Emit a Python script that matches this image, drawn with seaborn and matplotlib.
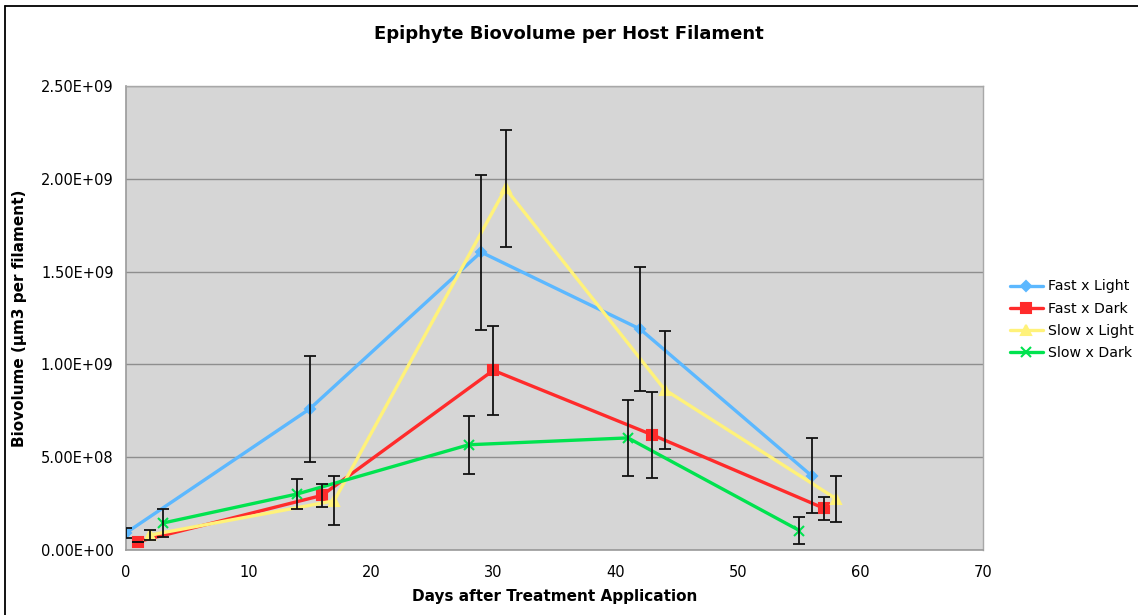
import matplotlib
matplotlib.use("Agg")
import matplotlib.pyplot as plt
from matplotlib.lines import Line2D
import seaborn as sns
import pandas as pd
from matplotlib.ticker import FuncFormatter

# Series: sampling day, mean biovolume, error-bar half width
series_names = ["Fast x Light", "Fast x Dark", "Slow x Light", "Slow x Dark"]

fast_light_days = [0, 15, 29, 42, 56]
fast_light_vals = [0.092e9, 0.76e9, 1.605e9, 1.19e9, 0.40e9]
fast_light_err = [0.027e9, 0.285e9, 0.418e9, 0.335e9, 0.202e9]

fast_dark_days = [1, 16, 30, 43, 57]
fast_dark_vals = [0.045e9, 0.294e9, 0.968e9, 0.62e9, 0.225e9]
fast_dark_err = [0.0, 0.060e9, 0.238e9, 0.230e9, 0.063e9]

slow_light_days = [2, 17, 31, 44, 58]
slow_light_vals = [0.081e9, 0.265e9, 1.948e9, 0.864e9, 0.276e9]
slow_light_err = [0.027e9, 0.133e9, 0.315e9, 0.318e9, 0.123e9]

slow_dark_days = [3, 14, 28, 41, 55]
slow_dark_vals = [0.145e9, 0.302e9, 0.567e9, 0.604e9, 0.105e9]
slow_dark_err = [0.077e9, 0.083e9, 0.156e9, 0.204e9, 0.072e9]

x_ticks = [0, 10, 20, 30, 40, 50, 60, 70]
y_ticks = [0, 0.5e9, 1.0e9, 1.5e9, 2.0e9, 2.5e9]

colors = ["#5CB8FF", "#FF2B2B", "#FFF27A", "#00E34F"]
markers = ["D", "s", "^", "x"]
marker_sizes = [5, 7, 7, 7]

all_days = [fast_light_days, fast_dark_days, slow_light_days, slow_dark_days]
all_vals = [fast_light_vals, fast_dark_vals, slow_light_vals, slow_dark_vals]
all_err = [fast_light_err, fast_dark_err, slow_light_err, slow_dark_err]

sns.set_style("white")
plt.rcParams["font.family"] = ["Verdana", "DejaVu Sans"]
plt.rcParams["text.color"] = "black"
plt.rcParams["axes.labelcolor"] = "black"

fig = plt.figure(figsize=(11.38, 6.15), dpi=100)
ax = fig.add_axes([0.1107, 0.1057, 0.7531, 0.7545])
ax.set_facecolor("#D6D6D6")

for name, d, v, col, mk, ms in zip(series_names, all_days, all_vals, colors, markers, marker_sizes):
    frame = pd.DataFrame({"Day": d, "Biovolume": v})
    sns.lineplot(data=frame, x="Day", y="Biovolume", color=col, marker=mk,
                 markersize=ms, markeredgecolor=col, markerfacecolor=col,
                 markeredgewidth=1.5, linewidth=2.4, sort=False, estimator=None,
                 label=name, ax=ax, zorder=3)

for d, v, e in zip(all_days, all_vals, all_err):
    ax.errorbar(d, v, yerr=e, fmt="none", ecolor="#111111", elinewidth=1.3,
                capsize=4.5, capthick=1.3, zorder=4)

ax.set_xlim(0, 70)
ax.set_ylim(0, 2.5e9)
ax.set_xticks(x_ticks)
ax.set_yticks(y_ticks)
ax.yaxis.set_major_formatter(FuncFormatter(lambda v, p: f"{v:.2E}"))
ax.grid(axis="y", color="#8E8E8E", linewidth=1.0, zorder=0)
ax.grid(axis="x", visible=False)
ax.set_axisbelow(True)

for side in ["top", "right"]:
    ax.spines[side].set_color("#A8A8A8")
    ax.spines[side].set_linewidth(1.0)
for side in ["left", "bottom"]:
    ax.spines[side].set_color("#9A9A9A")
    ax.spines[side].set_linewidth(1.2)

ax.tick_params(axis="both", direction="out", length=5, width=1, color="#9A9A9A",
               labelsize=10.5, labelcolor="black", pad=4)
ax.tick_params(axis="x", pad=6)

ax.set_xlabel("Days after Treatment Application", fontsize=11, fontweight="bold", labelpad=6)
ax.set_ylabel("Biovolume (\u00b5m3 per filament)", fontsize=11, fontweight="bold", labelpad=10)
fig.text(0.5, 0.945, "Epiphyte Biovolume per Host Filament", ha="center", va="center",
         fontsize=13, fontweight="bold")

ax.legend(loc="center left", bbox_to_anchor=(0.8875, 0.480), bbox_transform=fig.transFigure,
          frameon=False, fontsize=10.2, handlelength=2.3, handletextpad=0.35,
          labelspacing=0.58, borderaxespad=0, borderpad=0)

# outer frame: top and left edges of the chart
fig.add_artist(Line2D([0.0044, 1.0], [1 - 6 / 615, 1 - 6 / 615], transform=fig.transFigure,
                      color="black", linewidth=1.3))
fig.add_artist(Line2D([0.0044, 0.0044], [0.0, 1 - 6 / 615], transform=fig.transFigure,
                      color="black", linewidth=1.3))

fig.savefig("out.png", dpi=100)
